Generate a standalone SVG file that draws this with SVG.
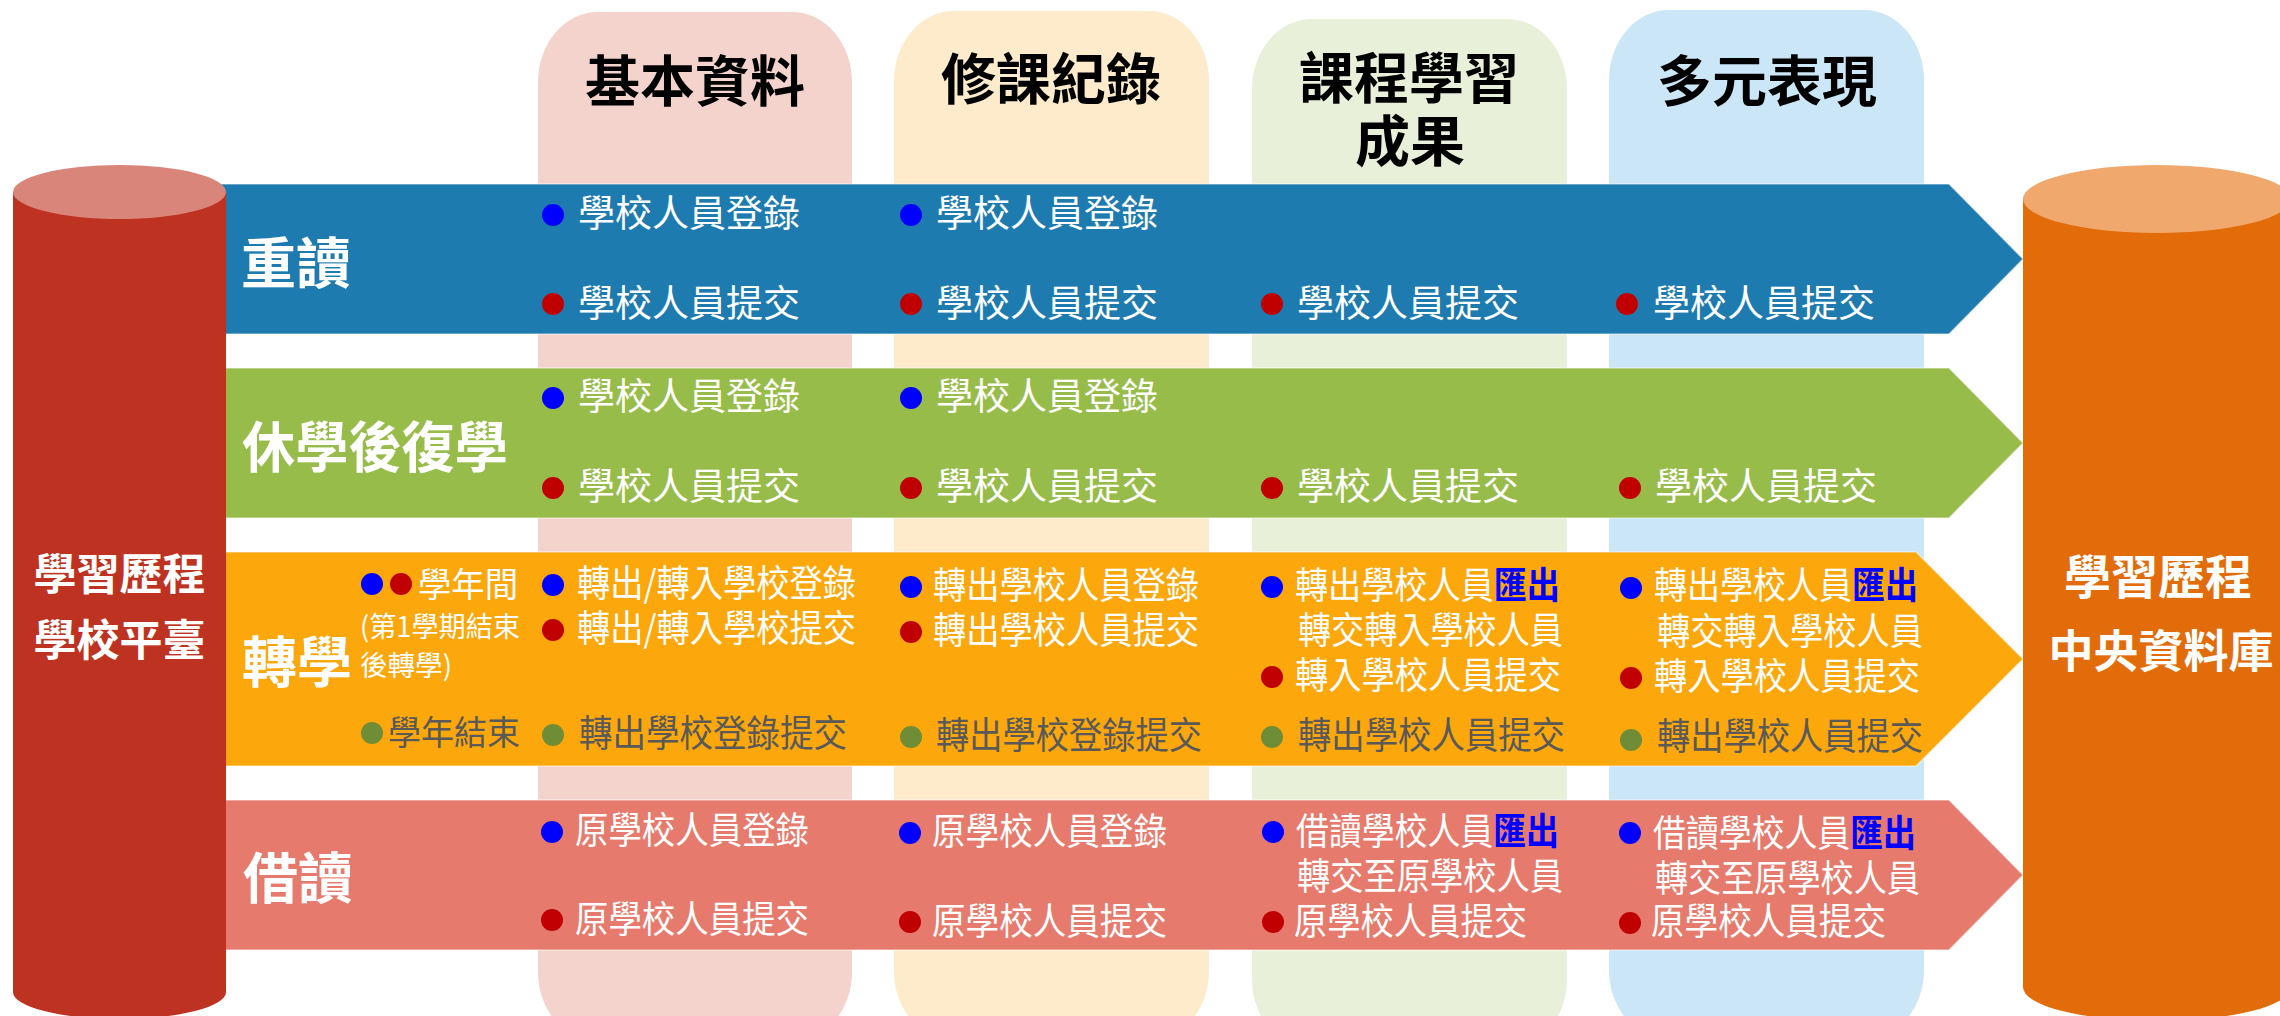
<svg xmlns="http://www.w3.org/2000/svg" width="2280" height="1016" viewBox="0 0 2280 1016">
<style>
text{font-family:"Noto Sans CJK TC","Noto Sans CJK SC",sans-serif}
.h{font-size:55px;font-weight:bold;fill:#000;text-anchor:middle}
.bt{font-size:55px;font-weight:bold;fill:#fff}
.cy{font-weight:bold;fill:#fff;text-anchor:middle}
.t{font-size:37px;fill:#fff}
.g{font-size:37px;fill:#595959}
.x{fill:#0000ff;font-weight:bold}
.s{font-size:28px;fill:#fff}
.db{fill:#0000ff}.dr{fill:#c00000}.dg{fill:#6f8d36}
.band{stroke:#ffffff;stroke-opacity:0.45;stroke-width:1.5}
</style>
<g id="columns">
<rect id="col-basic" x="538" y="12" width="314" height="1030" rx="60" ry="70" fill="#f5d3cd"/>
<rect id="col-course" x="894" y="11" width="315" height="1030" rx="60" ry="70" fill="#fdebcc"/>
<rect id="col-result" x="1252" y="19" width="315" height="1030" rx="60" ry="70" fill="#e8f0da"/>
<rect id="col-multi" x="1609" y="10" width="315" height="1030" rx="60" ry="70" fill="#cbe6f6"/>
<text class="h" x="695" y="101">基本資料</text>
<text class="h" x="1051" y="99">修課紀錄</text>
<text class="h" x="1409" y="98">課程學習</text>
<text class="h" x="1410" y="161">成果</text>
<text class="h" x="1767" y="101">多元表現</text>
</g>
<g id="connectors"></g>
<g id="band-repeat">
<path class="band" d="M200,184H1949L2023,259L1949,334H200Z" fill="#1e7baf"/>
<text class="bt" x="241" y="283">重讀</text>
<circle class="db" cx="553" cy="215" r="11"/><text class="t" x="578" y="227" textLength="222" lengthAdjust="spacingAndGlyphs">學校人員登錄</text>
<circle class="dr" cx="553" cy="304" r="11"/><text class="t" x="578" y="317" textLength="222" lengthAdjust="spacingAndGlyphs">學校人員提交</text>
<circle class="db" cx="911" cy="215" r="11"/><text class="t" x="936" y="227" textLength="222" lengthAdjust="spacingAndGlyphs">學校人員登錄</text>
<circle class="dr" cx="911" cy="304" r="11"/><text class="t" x="936" y="317" textLength="222" lengthAdjust="spacingAndGlyphs">學校人員提交</text>
<circle class="dr" cx="1272" cy="304" r="11"/><text class="t" x="1297" y="317" textLength="222" lengthAdjust="spacingAndGlyphs">學校人員提交</text>
<circle class="dr" cx="1627" cy="304" r="11"/><text class="t" x="1653" y="317" textLength="222" lengthAdjust="spacingAndGlyphs">學校人員提交</text>
</g>
<g id="band-resume">
<path class="band" d="M200,368H1949L2023,443L1949,518H200Z" fill="#97bc4a"/>
<text class="bt" x="242" y="467" textLength="266" lengthAdjust="spacingAndGlyphs">休學後復學</text>
<circle class="db" cx="553" cy="398" r="11"/><text class="t" x="578" y="410" textLength="222" lengthAdjust="spacingAndGlyphs">學校人員登錄</text>
<circle class="dr" cx="553" cy="488" r="11"/><text class="t" x="578" y="500" textLength="222" lengthAdjust="spacingAndGlyphs">學校人員提交</text>
<circle class="db" cx="911" cy="398" r="11"/><text class="t" x="936" y="410" textLength="222" lengthAdjust="spacingAndGlyphs">學校人員登錄</text>
<circle class="dr" cx="911" cy="488" r="11"/><text class="t" x="936" y="500" textLength="222" lengthAdjust="spacingAndGlyphs">學校人員提交</text>
<circle class="dr" cx="1272" cy="488" r="11"/><text class="t" x="1297" y="500" textLength="222" lengthAdjust="spacingAndGlyphs">學校人員提交</text>
<circle class="dr" cx="1630" cy="488" r="11"/><text class="t" x="1655" y="500" textLength="222" lengthAdjust="spacingAndGlyphs">學校人員提交</text>
</g>
<g id="band-transfer">
<path class="band" d="M200,552H1916L2023,659L1916,766H200Z" fill="#fca70b"/>
<text class="bt" x="242" y="682">轉學</text>
<circle class="db" cx="372" cy="584" r="11"/><circle class="dr" cx="401" cy="584" r="11"/>
<text class="t" x="418" y="597" style="font-size:34px" textLength="100" lengthAdjust="spacingAndGlyphs">學年間</text>
<text class="s" x="360" y="637" textLength="160" lengthAdjust="spacingAndGlyphs">(第1學期結束</text>
<text class="s" x="360" y="676" textLength="92" lengthAdjust="spacingAndGlyphs">後轉學)</text>
<circle class="dg" cx="372" cy="733" r="11"/>
<text class="g" x="388" y="745" style="font-size:34px" textLength="132" lengthAdjust="spacingAndGlyphs">學年結束</text>
<circle class="db" cx="553" cy="585" r="11"/><text class="t" x="577" y="597" textLength="279" lengthAdjust="spacingAndGlyphs">轉出/轉入學校登錄</text>
<circle class="dr" cx="553" cy="630" r="11"/><text class="t" x="577" y="642" textLength="279" lengthAdjust="spacingAndGlyphs">轉出/轉入學校提交</text>
<circle class="dg" cx="553" cy="735" r="11"/><text class="g" x="579" y="747" textLength="268" lengthAdjust="spacingAndGlyphs">轉出學校登錄提交</text>
<circle class="db" cx="911" cy="587" r="11"/><text class="t" x="933" y="599" textLength="266" lengthAdjust="spacingAndGlyphs">轉出學校人員登錄</text>
<circle class="dr" cx="911" cy="632" r="11"/><text class="t" x="933" y="644" textLength="266" lengthAdjust="spacingAndGlyphs">轉出學校人員提交</text>
<circle class="dg" cx="911" cy="737" r="11"/><text class="g" x="936" y="749" textLength="266" lengthAdjust="spacingAndGlyphs">轉出學校登錄提交</text>
<circle class="db" cx="1272" cy="587" r="11"/><text class="t" x="1295" y="599" textLength="265" lengthAdjust="spacingAndGlyphs">轉出學校人員<tspan class="x">匯出</tspan></text>
<text class="t" x="1298" y="644" textLength="265" lengthAdjust="spacingAndGlyphs">轉交轉入學校人員</text>
<circle class="dr" cx="1272" cy="677" r="11"/><text class="t" x="1295" y="689" textLength="266" lengthAdjust="spacingAndGlyphs">轉入學校人員提交</text>
<circle class="dg" cx="1272" cy="737" r="11"/><text class="g" x="1298" y="749" textLength="267" lengthAdjust="spacingAndGlyphs">轉出學校人員提交</text>
<circle class="db" cx="1631" cy="588" r="11"/><text class="t" x="1654" y="599" textLength="264" lengthAdjust="spacingAndGlyphs">轉出學校人員<tspan class="x">匯出</tspan></text>
<text class="t" x="1657" y="645" textLength="266" lengthAdjust="spacingAndGlyphs">轉交轉入學校人員</text>
<circle class="dr" cx="1631" cy="678" r="11"/><text class="t" x="1654" y="690" textLength="266" lengthAdjust="spacingAndGlyphs">轉入學校人員提交</text>
<circle class="dg" cx="1631" cy="740" r="11"/><text class="g" x="1657" y="750" textLength="266" lengthAdjust="spacingAndGlyphs">轉出學校人員提交</text>
</g>
<g id="band-borrow">
<path class="band" d="M200,800H1949L2023,875L1949,950H200Z" fill="#e67b6d"/>
<text class="bt" x="243" y="898">借讀</text>
<circle class="db" cx="552" cy="832" r="11"/><text class="t" x="575" y="844" textLength="234" lengthAdjust="spacingAndGlyphs">原學校人員登錄</text>
<circle class="dr" cx="552" cy="920" r="11"/><text class="t" x="575" y="933" textLength="234" lengthAdjust="spacingAndGlyphs">原學校人員提交</text>
<circle class="db" cx="910" cy="833" r="11"/><text class="t" x="932" y="845" textLength="235" lengthAdjust="spacingAndGlyphs">原學校人員登錄</text>
<circle class="dr" cx="910" cy="922" r="11"/><text class="t" x="932" y="935" textLength="235" lengthAdjust="spacingAndGlyphs">原學校人員提交</text>
<circle class="db" cx="1273" cy="832" r="11"/><text class="t" x="1296" y="845" textLength="263" lengthAdjust="spacingAndGlyphs">借讀學校人員<tspan class="x">匯出</tspan></text>
<text class="t" x="1297" y="890" textLength="266" lengthAdjust="spacingAndGlyphs">轉交至原學校人員</text>
<circle class="dr" cx="1273" cy="922" r="11"/><text class="t" x="1294" y="935" textLength="233" lengthAdjust="spacingAndGlyphs">原學校人員提交</text>
<circle class="db" cx="1630" cy="833" r="11"/><text class="t" x="1653" y="847" textLength="263" lengthAdjust="spacingAndGlyphs">借讀學校人員<tspan class="x">匯出</tspan></text>
<text class="t" x="1655" y="892" textLength="265" lengthAdjust="spacingAndGlyphs">轉交至原學校人員</text>
<circle class="dr" cx="1630" cy="923" r="11"/><text class="t" x="1651" y="935" textLength="235" lengthAdjust="spacingAndGlyphs">原學校人員提交</text>
</g>
<g id="school-platform">
<rect x="13" y="192" width="213" height="800" fill="#be3221"/>
<ellipse cx="119.5" cy="992" rx="106.5" ry="27" fill="#be3221"/>
<ellipse cx="119.5" cy="192" rx="106.5" ry="27" fill="#d9857a"/>
<text class="cy" x="119.5" y="590" style="font-size:43px">學習歷程</text>
<text class="cy" x="119.5" y="656" style="font-size:43px">學校平臺</text>
</g>
<g id="central-db">
<rect x="2023" y="199" width="268" height="788" fill="#e36c0a"/>
<ellipse cx="2157" cy="987" rx="134" ry="34" fill="#e36c0a"/>
<ellipse cx="2157" cy="199" rx="134" ry="34" fill="#f0a86d"/>
<text class="cy" x="2158" y="594" style="font-size:47px">學習歷程</text>
<text class="cy" x="2161" y="668" style="font-size:45px">中央資料庫</text>
</g>
</svg>
